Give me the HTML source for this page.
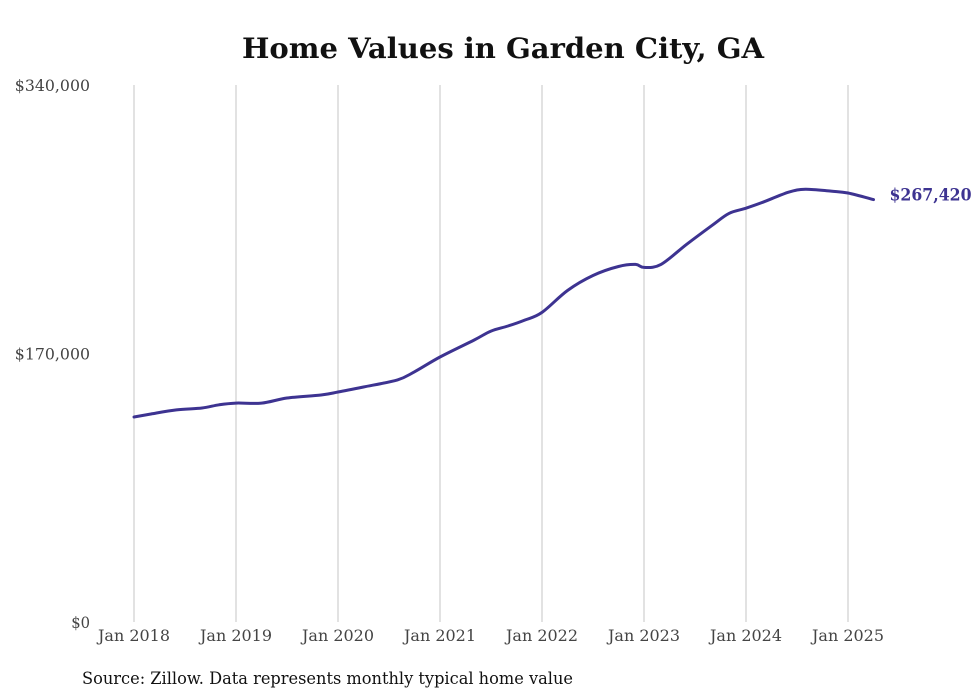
<!DOCTYPE html>
<html><head><meta charset="utf-8"><style>
body{margin:0;background:#fff;width:980px;height:699px;overflow:hidden}
svg{display:block}
</style></head><body>
<svg id="chart" width="980" height="699" xmlns="http://www.w3.org/2000/svg" font-family="'DejaVu Serif', 'Liberation Serif', serif">
<text x="503" y="58" text-anchor="middle" font-size="28" font-weight="bold" fill="#111" textLength="522" lengthAdjust="spacingAndGlyphs">Home Values in Garden City, GA</text>
<g id="grid"></g>
<g id="yaxis"></g>
<g id="xaxis"></g>
<path id="line" fill="none" stroke="#3d3391" stroke-width="3" stroke-linejoin="round" stroke-linecap="round"/>
<text id="endlabel" font-size="17" font-weight="bold" fill="#3d3391" textLength="82" lengthAdjust="spacingAndGlyphs"></text>
<text x="82" y="684" font-size="17" fill="#111" textLength="491" lengthAdjust="spacingAndGlyphs">Source: Zillow. Data represents monthly typical home value</text>
</svg>
<script>
const months = [0,2,5,8,10,12,15,18,22,24,27,31,33,36,40,42,44,46,48,51,54,57,59,60,62,65,68,70,72,74,77,79,82,84,87];
const values = [129800,131700,134300,135500,137500,138600,138600,141800,143700,145600,148800,153300,158400,167800,178500,184200,187400,191200,196000,209900,219400,225100,226400,224500,226400,239100,251100,258700,262000,265800,272100,274000,272800,271600,267420];
const yTicks = [0,170000,340000];
const yTickLabels = ["$0","$170,000","$340,000"];
const xTickMonths = [0,12,24,36,48,60,72,84];
const xTickLabels = ["Jan 2018","Jan 2019","Jan 2020","Jan 2021","Jan 2022","Jan 2023","Jan 2024","Jan 2025"];
const endLabel = "$267,420";

const NS="http://www.w3.org/2000/svg";
const x = m => 134 + m*(714/84);
const y = v => 622 - v*(537/340000);
const grid=document.getElementById('grid'), ya=document.getElementById('yaxis'), xa=document.getElementById('xaxis');
xTickMonths.forEach((m,i)=>{
  const l=document.createElementNS(NS,'line');
  
  
  l.setAttribute('x1',x(m));l.setAttribute('x2',x(m));l.setAttribute('y1',85);l.setAttribute('y2',622);
  l.setAttribute('stroke','#c4c4c4');l.setAttribute('stroke-width','1');
  grid.appendChild(l);
  const t=document.createElementNS(NS,'text');
  
  
  t.setAttribute('x',x(m));t.setAttribute('y',641);t.setAttribute('text-anchor','middle');
  t.setAttribute('font-size','16');t.setAttribute('fill','#444');
  t.setAttribute('textLength','72');t.setAttribute('lengthAdjust','spacingAndGlyphs');
  t.textContent=xTickLabels[i];
  xa.appendChild(t);
});
yTicks.forEach((v,i)=>{
  const t=document.createElementNS(NS,'text');
  
  
  t.setAttribute('x',90);t.setAttribute('y',y(v)+6);t.setAttribute('text-anchor','end');
  t.setAttribute('font-size','16');t.setAttribute('fill','#444');
  t.setAttribute('textLength', String(yTickLabels[i].length*9.4));
  t.setAttribute('lengthAdjust','spacingAndGlyphs');
  t.textContent=yTickLabels[i];
  ya.appendChild(t);
});
const pts=months.map((m,i)=>[x(m),y(values[i])]);
let d='M'+pts[0][0].toFixed(1)+','+pts[0][1].toFixed(1);
for(let i=0;i<pts.length-1;i++){
  const p0=pts[Math.max(0,i-1)],p1=pts[i],p2=pts[i+1],p3=pts[Math.min(pts.length-1,i+2)];
  const c1=[p1[0]+(p2[0]-p0[0])/6,p1[1]+(p2[1]-p0[1])/6];
  const c2=[p2[0]-(p3[0]-p1[0])/6,p2[1]-(p3[1]-p1[1])/6];
  d+='C'+c1.map(n=>n.toFixed(1)).join(',')+' '+c2.map(n=>n.toFixed(1)).join(',')+' '+p2.map(n=>n.toFixed(1)).join(',');
}
document.getElementById('line').setAttribute('d',d);
const el=document.getElementById('endlabel');
el.setAttribute('x',x(months[months.length-1])+16);
el.setAttribute('y',y(values[values.length-1])+1);
el.textContent=endLabel;
</script>
</body></html>
